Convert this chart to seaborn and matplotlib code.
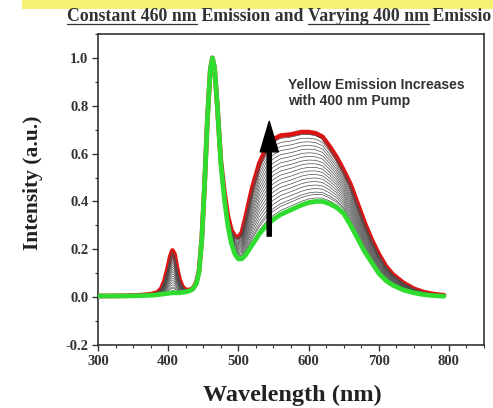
import numpy as np
import pandas as pd
import matplotlib.pyplot as plt
from matplotlib.lines import Line2D
from matplotlib.patches import Rectangle
from matplotlib.ticker import MultipleLocator
import seaborn as sns

# wavelength grid (nm) and the two outer spectra
wavelength = [300, 320, 340, 360, 375, 385, 390, 395, 400, 403, 406, 409, 412, 416,
              420, 425, 430, 435, 440, 444, 448, 452, 456, 460, 463, 466, 470, 475,
              480, 485, 490, 495, 500, 505, 510, 520, 530, 540, 550, 560, 575, 590,
              600, 610, 620, 630, 640, 650, 660, 670, 680, 690, 700, 710, 720, 735,
              750, 765, 780, 793]

# highest 400 nm pump (red trace)
red_curve = [0.005, 0.005, 0.006, 0.008, 0.012, 0.02, 0.035, 0.07, 0.13, 0.17, 0.195,
             0.18, 0.13, 0.075, 0.045, 0.03, 0.03, 0.035, 0.06, 0.11, 0.25, 0.48, 0.75,
             0.95, 1.0, 0.96, 0.80, 0.57, 0.44, 0.34, 0.28, 0.255, 0.25, 0.27, 0.33,
             0.46, 0.56, 0.625, 0.66, 0.675, 0.68, 0.69, 0.69, 0.685, 0.67, 0.63, 0.585,
             0.53, 0.47, 0.39, 0.31, 0.24, 0.18, 0.13, 0.095, 0.06, 0.035, 0.02, 0.012,
             0.008]

# no 400 nm pump (green trace)
green_curve = [0.005, 0.005, 0.005, 0.006, 0.008, 0.01, 0.012, 0.014, 0.016, 0.017, 0.018,
               0.018, 0.018, 0.018, 0.02, 0.022, 0.026, 0.033, 0.055, 0.105, 0.245, 0.48,
               0.75, 0.95, 1.0, 0.96, 0.80, 0.56, 0.41, 0.30, 0.225, 0.18, 0.16, 0.16,
               0.175, 0.22, 0.265, 0.30, 0.325, 0.345, 0.365, 0.385, 0.395, 0.40, 0.40,
               0.39, 0.375, 0.35, 0.30, 0.245, 0.19, 0.145, 0.10, 0.07, 0.05, 0.03, 0.018,
               0.01, 0.006, 0.004]

# yellow-band peak height of each intermediate (gray) trace
gray_levels = [0.415, 0.43, 0.44, 0.455, 0.47, 0.485, 0.50, 0.515, 0.53, 0.545,
               0.56, 0.575, 0.59, 0.605, 0.62, 0.635, 0.65, 0.665, 0.68]

# title as it shows in the (cropped) reference
title_parts = [("Constant 460 nm", True), (" Emission and ", False),
               ("Varying 400 nm", True), (" Emissio", False)]

sns.set_style("ticks")
plt.rcParams['font.family'] = ['Liberation Serif', 'DejaVu Serif']

W, H = 493, 408
fig = plt.figure(figsize=(W / 100, H / 100), dpi=100)
fig.patch.set_facecolor('white')
ax = fig.add_axes([98 / W, 1 - 345 / H, (484 - 98) / W, (345 - 34) / H])

wl = np.array(wavelength)
red = np.array(red_curve)
green = np.array(green_curve)
band = wl >= 520
lo, hi = green[band].max(), red[band].max()

rows = []
for i, lev in enumerate(gray_levels):
    f = (lev - lo) / (hi - lo)
    rows.append(pd.DataFrame({'wl': wl, 'I': green + f * (red - green), 'run': i}))
gray_df = pd.concat(rows)

sns.lineplot(x=wl, y=red, color='#dd1414', lw=3.4, ax=ax, zorder=2)
sns.lineplot(data=gray_df, x='wl', y='I', units='run', estimator=None,
             color='#4d4d4d', lw=0.5, ax=ax, zorder=3)
sns.lineplot(x=wl, y=green, color='#2fdc2f', lw=3.4, ax=ax, zorder=4)

ax.set_xlim(300, 850)
ax.set_ylim(-0.2, 1.1)
ax.xaxis.set_major_locator(MultipleLocator(100))
ax.xaxis.set_minor_locator(MultipleLocator(25))
ax.yaxis.set_major_locator(MultipleLocator(0.2))
ax.yaxis.set_minor_locator(MultipleLocator(0.1))
ax.yaxis.set_major_formatter(lambda v, p: f"{v:.1f}")
ax.tick_params(which='major', direction='out', length=4, width=1.0, color='#333333',
               labelsize=10.5, labelcolor='#333333', pad=3)
ax.tick_params(which='minor', direction='out', length=2, width=0.8, color='#333333')
for lab in ax.get_xticklabels() + ax.get_yticklabels():
    lab.set_fontweight('bold')
for s in ax.spines.values():
    s.set_visible(True)
    s.set_linewidth(1.2)
    s.set_color('#333333')

ax.set_xlabel('')
ax.set_ylabel('')
fig.text(292 / W, 1 - 395 / H, 'Wavelength (nm)', ha='center', va='center',
         fontsize=17.5, fontweight='bold', color='#222222')
fig.text(33 / W, 1 - 183 / H, 'Intensity (a.u.)', ha='center', va='center',
         rotation=90, fontsize=15.5, fontweight='bold', color='#222222')

ax.annotate('', xy=(544, 0.735), xytext=(544, 0.255),
            arrowprops=dict(width=3, headwidth=13, headlength=22, color='black'),
            zorder=6)
ax.text(571, 0.915, 'Yellow Emission Increases\nwith 400 nm Pump', ha='left', va='top',
        fontsize=10, fontweight='bold', family=['Liberation Sans', 'DejaVu Sans'],
        color='#333333', linespacing=1.15, zorder=6)

# yellow highlight strip across the top
fig.add_artist(Rectangle((22 / W, 1 - 9 / H), 1 - 22 / W, 9 / H, transform=fig.transFigure,
                         facecolor='#f6f172', edgecolor='none'))

# title with underlined parts
renderer = fig.canvas.get_renderer()
x = 67
base = H - 21
for txt, under in title_parts:
    t = fig.text(x / W, base / H, txt, ha='left', va='baseline', fontsize=12.8,
                 fontweight='bold', color='#333333')
    bb = t.get_window_extent(renderer)
    if under:
        fig.add_artist(Line2D([bb.x0 / W, bb.x1 / W], [(base - 2.5) / H] * 2,
                              transform=fig.transFigure, color='#333333', lw=0.9))
    x = bb.x1

fig.savefig('out.png', dpi=100)
